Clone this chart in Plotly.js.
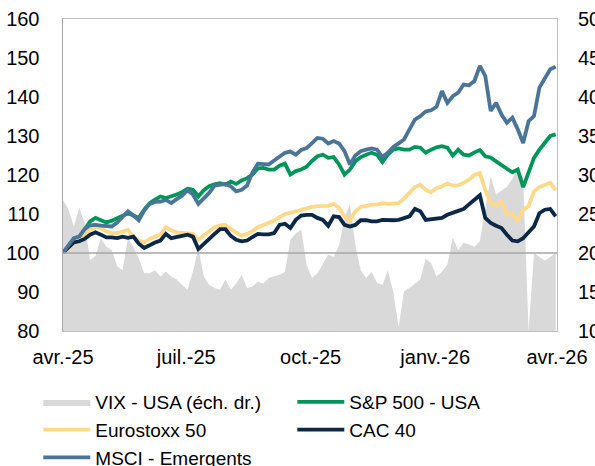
<!DOCTYPE html>
<html>
<head>
<meta charset="utf-8">
<script src="https://cdn.plot.ly/plotly-3.0.1.min.js"></script>
<style>
  html, body { margin: 0; padding: 0; background: #fff; }
  #chart { width: 595px; height: 466px; }
</style>
</head>
<body>
<div id="chart"></div>
<script>
// one point every 4 days from 1 April 2025
var startDate = '2025-04-01';
var stepMs = 4 * 86400000;

var vix = [26.8, 25.6, 23.4, 25.8, 23.8, 19.1, 19.6, 21.9, 20.8, 20.4,
  18.3, 17.8, 21.9, 20.8, 19.3, 17.4, 17.4, 17.8, 17, 17.6,
  17, 16.6, 15.9, 15.3, 17.6, 20.6, 17, 15.9, 15.5, 15.3,
  16.6, 15.3, 16.1, 17.2, 15.5, 15.7, 16.3, 16.1, 16.8, 17,
  17.2, 17.6, 21.7, 22.5, 23, 18.5, 16.8, 17.4, 18.7, 19.8,
  19.5, 21, 24.5, 26.3, 21, 17.8, 16.8, 17.6, 16.2, 15.9,
  17.8, 15, 10.5, 15.1, 15.5, 16.1, 16.6, 19.3, 18.7, 17,
  17.6, 18.5, 22, 20.4, 21.3, 21.1, 20.8, 21.5, 25.6, 29.8,
  27.5, 28, 28.5, 29.5, 31, 29.5, 10, 20, 19.5, 19,
  19.5, 20];

var sp500 = [100.1, 101.3, 103.4, 104.2, 106, 108.1, 109, 108.5, 107.8, 108.3,
  109, 109.6, 110.2, 109.6, 109, 111.1, 112.8, 113.7, 114.5, 114.1,
  114.5, 115, 115.6, 116.5, 116.2, 114.5, 116.1, 117.1, 117.6, 117.9,
  117.5, 118.3, 117.7, 118.6, 119.2, 120.1, 121.7, 121.8, 121.4, 121.4,
  122.4, 122.9, 120.1, 121, 121.4, 122.1, 123.6, 124.8, 125.2, 124.4,
  124.6, 122.7, 120.1, 121.4, 123.5, 124.6, 125.2, 125.7, 125.2, 123.3,
  125.2, 126.5, 126.8, 126.5, 126.5, 127.2, 127, 125.7, 126.5, 127.1,
  127.4, 127, 125, 126.5, 125.2, 125, 125.8, 126.4, 124.8, 124.5,
  123.5, 122.4, 121.6, 120.7, 121.4, 116.9, 120.5, 124.4, 126.5, 128.2,
  130, 130.4];

var eurostoxx = [100.1, 101, 102.4, 103.8, 104.9, 106, 106.6, 106.4, 105.5, 105.1,
  105.1, 105.5, 105.9, 104.2, 103.2, 102.7, 103.6, 104.2, 104.7, 106.6,
  105.8, 105.3, 105.1, 105.1, 104.9, 103.4, 104.4, 105.5, 106.6, 107.1,
  107.2, 106.1, 105.1, 104.4, 104.9, 105.6, 106.6, 107.2, 107.6, 108.3,
  109.2, 110, 110.3, 110.7, 111.1, 111.4, 111.8, 112, 112, 112.1,
  112.6, 111.5, 109.4, 108.3, 110.7, 111.8, 112.1, 112.4, 112.4, 112.8,
  112.6, 112.7, 112.8, 114, 115.6, 116.9, 117.5, 116.2, 115.6, 116.6,
  117.1, 117.8, 117.3, 117.4, 118, 118.8, 120, 120.5, 116.2, 112.8,
  112.1, 113.2, 109.8, 110.1, 108.1, 111.1, 112, 115.8, 116.9, 117.5,
  118, 116.1];

var cac40 = [100.1, 101.3, 102.7, 103, 103.6, 104.7, 105.3, 104.7, 104, 104,
  103.8, 104.2, 103.9, 104.2, 102.4, 101.3, 102.1, 102.7, 103.2, 104.9,
  103.8, 104.2, 104.4, 104.7, 104.2, 101, 102.4, 103.6, 104.9, 106.1,
  106.1, 104.4, 103.4, 103, 103.2, 104.1, 104.9, 104.8, 104.8, 105.1,
  107.2, 107.5, 106.4, 108.5, 109.6, 109.8, 109.8, 109, 108.5, 107,
  109.4, 109.2, 107.2, 106.8, 107.2, 108.4, 108.4, 108.1, 108.1, 108.5,
  108.4, 108.4, 108.5, 108.9, 109.4, 111.3, 110.7, 108.5, 108.7, 109,
  109, 109.8, 110.4, 110.8, 111.3, 112.4, 113.5, 114.8, 109, 107.7,
  107, 106.4, 104.7, 103.2, 103, 103.8, 105.3, 106.8, 110.2, 111.1,
  111.3, 109.4];

var msciEm = [100.1, 102.1, 103.8, 104.2, 106.1, 107.1, 107.2, 107, 106.8, 106.8,
  107.8, 109.4, 110.7, 109.6, 108.4, 110.9, 112.6, 113.1, 113.2, 113.6,
  112.8, 113.8, 114.7, 116.1, 115, 112.6, 114.1, 115.4, 117.3, 117.5,
  117.7, 117.1, 115.8, 116.2, 117.3, 120.7, 122.9, 122.8, 122.7, 123.7,
  124.8, 125.7, 126, 125.2, 126.4, 126.9, 128.2, 129.5, 129.3, 128.1,
  128.7, 128.1, 126.1, 122.7, 125, 126.1, 126.5, 126.8, 126.5, 124.6,
  125.7, 127.2, 128.1, 129.1, 131.7, 134.2, 135.1, 136.3, 136.6, 137.5,
  141.5, 138.5, 140.2, 141.1, 143.2, 143, 144.1, 148, 145.4, 136.4,
  138.5, 135.5, 133.4, 134.7, 131.7, 128.2, 133.8, 135.1, 142.4, 145,
  147.1, 147.8];

var tickDates = ['2025-04-01', '2025-07-01', '2025-10-01', '2026-01-01', '2026-04-01'];
var tickLabels = ['avr.-25', 'juil.-25', 'oct.-25', 'janv.-26', 'avr.-26'];

function line(name, y, color) {
  return {
    type: 'scatter', mode: 'lines', name: name,
    x0: startDate, dx: stepMs, y: y, yaxis: 'y2',
    line: {color: color, width: 3.8},
    hoverinfo: 'skip'
  };
}

var data = [
  {
    type: 'scatter', mode: 'lines', name: 'VIX - USA (éch. dr.)',
    x0: startDate, dx: stepMs, y: vix, yaxis: 'y',
    fill: 'tozeroy', fillcolor: '#d9d9d9',
    line: {color: '#d9d9d9', width: 0},
    hoverinfo: 'skip'
  },
  line('S&P 500 - USA', sp500, '#00965a'),
  line('Eurostoxx 50', eurostoxx, '#ffd98a'),
  line('CAC 40', cac40, '#0c2846'),
  line('MSCI - Emergents', msciEm, '#4a7599')
];

var font = {family: 'Liberation Sans, Arial, sans-serif', size: 20, color: '#000'};

var layout = {
  width: 595, height: 466,
  margin: {l: 63, r: 38, t: 19, b: 135, autoexpand: false},
  paper_bgcolor: '#fff', plot_bgcolor: '#fff',
  font: font,
  showlegend: true,
  xaxis: {
    type: 'date',
    range: ['2025-04-01', '2026-04-01'],
    tickvals: tickDates, ticktext: tickLabels,
    showgrid: false, zeroline: false,
    showline: true, mirror: true, linecolor: '#bfbfbf', linewidth: 1,
    ticks: '', ticklabelstandoff: 8,
    tickfont: font
  },
  yaxis: {
    side: 'right',
    range: [10, 50], dtick: 5,
    showgrid: false, zeroline: false,
    showline: true, linecolor: '#bfbfbf', linewidth: 1,
    ticks: '', ticklabelstandoff: 16,
    tickfont: font
  },
  yaxis2: {
    overlaying: 'y', side: 'left',
    range: [80, 160], dtick: 10,
    showgrid: false, zeroline: false,
    showline: true, linecolor: '#a6a6a6', linewidth: 1.5,
    ticks: '', ticklabelstandoff: 18,
    tickfont: font
  },
  shapes: [{
    type: 'line', xref: 'paper', x0: 0, x1: 1,
    yref: 'y2', y0: 100, y1: 100,
    line: {color: '#a6a6a6', width: 1.5},
    layer: 'above'
  }],
  legend: {
    orientation: 'h',
    x: -0.05, xanchor: 'left',
    y: -0.167, yanchor: 'top',
    entrywidth: 192, entrywidthmode: 'pixels',
    itemwidth: 47,
    traceorder: 'normal',
    font: {family: 'Liberation Sans, Arial, sans-serif', size: 19, color: '#000'},
    bgcolor: 'rgba(0,0,0,0)'
  }
};

Plotly.newPlot('chart', data, layout, {displayModeBar: false, staticPlot: true});
</script>
</body>
</html>
